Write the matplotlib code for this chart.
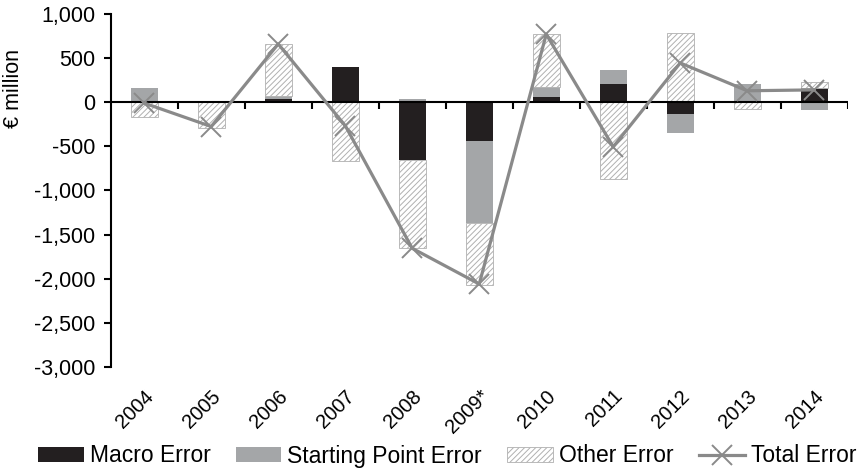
import matplotlib
matplotlib.use('Agg')
import matplotlib.pyplot as plt
from matplotlib.ticker import FuncFormatter
from matplotlib.lines import Line2D
from matplotlib.patches import Patch
import numpy as np

plt.rcParams['font.family'] = ['Liberation Sans', 'DejaVu Sans']
plt.rcParams['hatch.linewidth'] = 0.7

# data (EUR million)
years = ['2004', '2005', '2006', '2007', '2008', '2009*', '2010', '2011', '2012', '2013', '2014']
macro_error = [0, 15, 35, 395, -650, -435, 60, 210, -130, 0, 165]
start_error = [160, 0, 35, 0, 40, -935, 110, 150, -215, 210, -90]
other_error = [-170, -290, 590, -665, -1000, -700, 600, -865, 780, -80, 70]
total_error = [-10, -275, 660, -265, -1655, -2060, 770, -505, 445, 130, 140]

hatch_style = dict(facecolor='white', edgecolor='#b0b0b0', hatch='//////', linewidth=0.6)
series = [
    ('Macro Error', macro_error, dict(color='#231f20')),
    ('Starting Point Error', start_error, dict(color='#a4a6a8')),
    ('Other Error', other_error, hatch_style),
]

fig = plt.figure(figsize=(8.61, 4.71), dpi=100)
ax = fig.add_axes([0.1286, 0.2208, 0.856, 0.7495])

x = np.arange(len(years))
pos = np.zeros(len(years))
neg = np.zeros(len(years))
for name, vals, style in series:
    vals = np.array(vals, dtype=float)
    bottom = np.where(vals >= 0, pos, neg)
    ax.bar(x, vals, 0.4, bottom=bottom, zorder=2, **style)
    pos = pos + np.clip(vals, 0, None)
    neg = neg + np.clip(vals, None, 0)

ax.plot(x, total_error, color='#8a8a8a', lw=2.3, marker='x', ms=14, mew=1.4, zorder=4)

# category axis at zero with boundary ticks
ax.axhline(0, color='black', lw=1.5, zorder=3)
ax.vlines(np.arange(0.5, len(years), 1), -75, 0, color='black', lw=1.5, zorder=3)

ax.set_xlim(-0.5, len(years) - 0.5)
ax.set_ylim(-3000, 1000)
ax.set_yticks(np.arange(-3000, 1001, 500))
ax.yaxis.set_major_formatter(FuncFormatter(lambda v, p: '{:,.0f}'.format(v)))
ax.tick_params(axis='y', labelsize=15.5, length=5, width=1.5, pad=6)
ax.set_xticks(x)
ax.set_xticklabels(years, rotation=45, ha='right', va='top', rotation_mode='anchor', fontsize=14.5)
ax.tick_params(axis='x', length=0, pad=14)

for s in ['top', 'right', 'bottom']:
    ax.spines[s].set_visible(False)
ax.spines['left'].set_linewidth(1.5)

ax.set_ylabel('€ million', fontsize=15.5)
ax.yaxis.set_label_coords(-0.118, 0.79)

handles = [
    Patch(facecolor='#231f20', label='Macro Error'),
    Patch(facecolor='#a4a6a8', label='Starting Point Error'),
    Patch(label='Other Error', **hatch_style),
    Line2D([], [], color='#8a8a8a', lw=2.3, marker='x', ms=14, mew=1.4, label='Total Error'),
]
fig.legend(handles=handles, loc='center', bbox_to_anchor=(447 / 861, 1 - 456 / 471), ncol=4,
           frameon=False, fontsize=16.5, handlelength=2.0, handleheight=0.6, handletextpad=0.26,
           columnspacing=1.1, borderpad=0)

fig.savefig('out.png', dpi=100)
